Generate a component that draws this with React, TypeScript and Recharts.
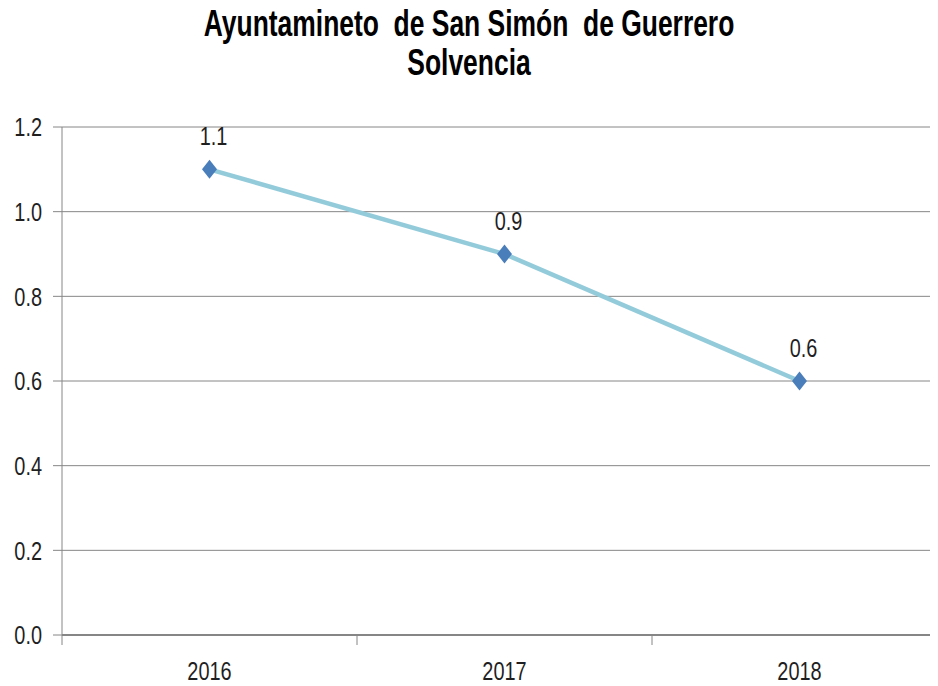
import React from "react";
import { LineChart, Line, XAxis, YAxis, CartesianGrid } from "recharts";

const years = ["2016", "2017", "2018"];
const solvencia = [1.1, 0.9, 0.6];
const yTicks = [0, 0.2, 0.4, 0.6, 0.8, 1.0, 1.2];
const titleLines = ["Ayuntamineto  de San Simón  de Guerrero", "Solvencia"];

const data = years.map((year, i) => ({ pos: i + 0.5, year, value: solvencia[i] }));
const xTicks = [0, 0.5, 1, 1.5, 2, 2.5, 3];

const FONT = '"Liberation Sans", Arial, sans-serif';
const GRID = "#868686";
const TEXT = "#1f1f1f";
const SMALL_SCALE = "scale(0.83,1.06)";

const XTick = (props: any) => {
  const { x, y, payload } = props;
  const v = payload.value;
  if (Number.isInteger(v)) {
    return <line x1={x} x2={x} y1={y} y2={y + 10} stroke={GRID} strokeWidth={1} />;
  }
  return (
    <g transform={`translate(${x},${y + 45}) ${SMALL_SCALE}`}>
      <text x={0} y={0} textAnchor="middle" fontFamily={FONT} fontSize={24} fill={TEXT}>
        {years[Math.floor(v)]}
      </text>
    </g>
  );
};

const YTick = (props: any) => {
  const { x, y, payload } = props;
  return (
    <g transform={`translate(${x},${y}) ${SMALL_SCALE}`}>
      <text x={0} y={0} dy="0.36em" textAnchor="end" fontFamily={FONT} fontSize={24} fill={TEXT}>
        {Number(payload.value).toFixed(1)}
      </text>
    </g>
  );
};

const Diamond = (props: any) => {
  const { cx, cy } = props;
  if (cx == null || cy == null) return null;
  return (
    <polygon
      points={`${cx},${cy - 9.5} ${cx + 7.5},${cy} ${cx},${cy + 9.5} ${cx - 7.5},${cy}`}
      fill="#4A7EBB"
    />
  );
};

const ValueLabel = (props: any) => {
  const { x, y, value } = props;
  return (
    <g transform={`translate(${x + 4},${y - 24}) ${SMALL_SCALE}`}>
      <text x={0} y={0} textAnchor="middle" fontFamily={FONT} fontSize={24} fill={TEXT}>
        {Number(value).toFixed(1)}
      </text>
    </g>
  );
};

export default function App() {
  return (
    <div style={{ position: "relative", width: 930, height: 678 }}>
      <div style={{ position: "absolute", left: 0, top: 0, width: 930, height: 678, overflow: "hidden", background: "#fff" }}>
        <LineChart
          width={960}
          height={678}
          data={data}
          margin={{ top: 119, right: 21, bottom: 11, left: 0 }}
        >
          <CartesianGrid vertical={false} stroke={GRID} strokeWidth={1} />
          <XAxis
            dataKey="pos"
            type="number"
            domain={[0, 3]}
            ticks={xTicks}
            interval={0}
            tick={<XTick />}
            tickLine={false}
            tickSize={0}
            tickMargin={0}
            height={40}
            axisLine={{ stroke: GRID, strokeWidth: 2 }}
          />
          <YAxis
            type="number"
            domain={[0, 1.2]}
            ticks={yTicks}
            interval={0}
            width={54}
            tickSize={9}
            tickMargin={11}
            tick={<YTick />}
            tickLine={{ stroke: GRID }}
            axisLine={{ stroke: GRID }}
          />
          <Line
            type="linear"
            dataKey="value"
            stroke="#93CBDB"
            strokeWidth={4.5}
            dot={<Diamond />}
            activeDot={false}
            label={<ValueLabel />}
            isAnimationActive={false}
          />
        </LineChart>
      </div>
      <svg width={930} height={110} style={{ position: "absolute", left: 0, top: -8, overflow: "visible" }}>
        <g transform="translate(461,36) scale(0.853,1.17)">
          <text x={0} y={0} textAnchor="middle" fontFamily={FONT} fontWeight="bold" fontSize={31} fill="#000" style={{ whiteSpace: "pre" }}>
            {titleLines[0]}
          </text>
        </g>
        <g transform="translate(461,75) scale(0.853,1.17)">
          <text x={0} y={0} textAnchor="middle" fontFamily={FONT} fontWeight="bold" fontSize={31} fill="#000">
            {titleLines[1]}
          </text>
        </g>
      </svg>
    </div>
  );
}
